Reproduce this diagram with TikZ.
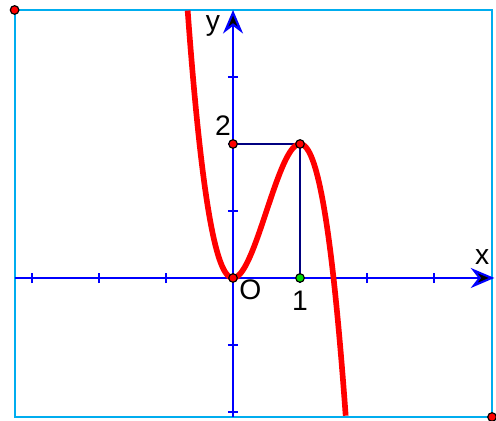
\documentclass[tikz,border=0pt]{standalone}
\usepackage{fontspec}
\setmainfont{Liberation Sans}
\usepackage{tikz}
\usetikzlibrary{arrows.meta}

\begin{document}
\begin{tikzpicture}[x=1cm, y=1cm, >={Stealth[length=10pt,width=8.5pt,fill=black]}, font=\fontsize{12}{14}\selectfont]
  \useasboundingbox (-3.478,-2.134) rectangle (3.925,4.149);

  % Frame
  \coordinate (TL) at (-3.26,4.0);
  \coordinate (BR) at (3.866,-2.075);
  \draw[cyan, line width=0.9pt] (TL) rectangle (BR);

  % Axes
  \draw[->, blue, line width=0.9pt] (-3.26,0) -- (3.9,0);
  \draw[->, blue, line width=0.9pt] (0,-2.075) -- (0,4.0);
  \foreach \k in {-3,-2,-1,1,2,3} {
    \draw[blue, line width=0.9pt] (\k,-0.075) -- (\k,0.075);
  }
  \foreach \k in {-2,-1,1,2,3} {
    \draw[blue, line width=0.9pt] (-0.075,\k) -- (0.075,\k);
  }
  \node (xlabel) at (3.72,0.31) {x};
  \node (ylabel) at (-0.30,3.76) {y};

  % Key points
  \coordinate (O) at (0,0);
  \coordinate (A) at (1,2);
  \coordinate (B) at (0,2);
  \coordinate (C) at (1,0);
  \draw[blue!50!black, line width=0.9pt] (B) -- (A) -- (C);

  % Graph of y = -4x^3 + 6x^2
  \draw[red, line width=2.4pt, domain=-0.677:1.683, samples=120] plot (\x, {-4*\x*\x*\x+6*\x*\x});

  % Labels
  \node (two) at (-0.15,2.28) {2};
  \node (origin) at (0.26,-0.18) {O};
  \node (one) at (1.0,-0.34) {1};

  % Dots
  \foreach \p in {O,A,B,TL,BR} {
    \fill[red, draw=black, line width=0.5pt] (\p) circle (0.064);
  }
  \fill[green!85!black, draw=black, line width=0.5pt] (C) circle (0.064);
\end{tikzpicture}
\end{document}
